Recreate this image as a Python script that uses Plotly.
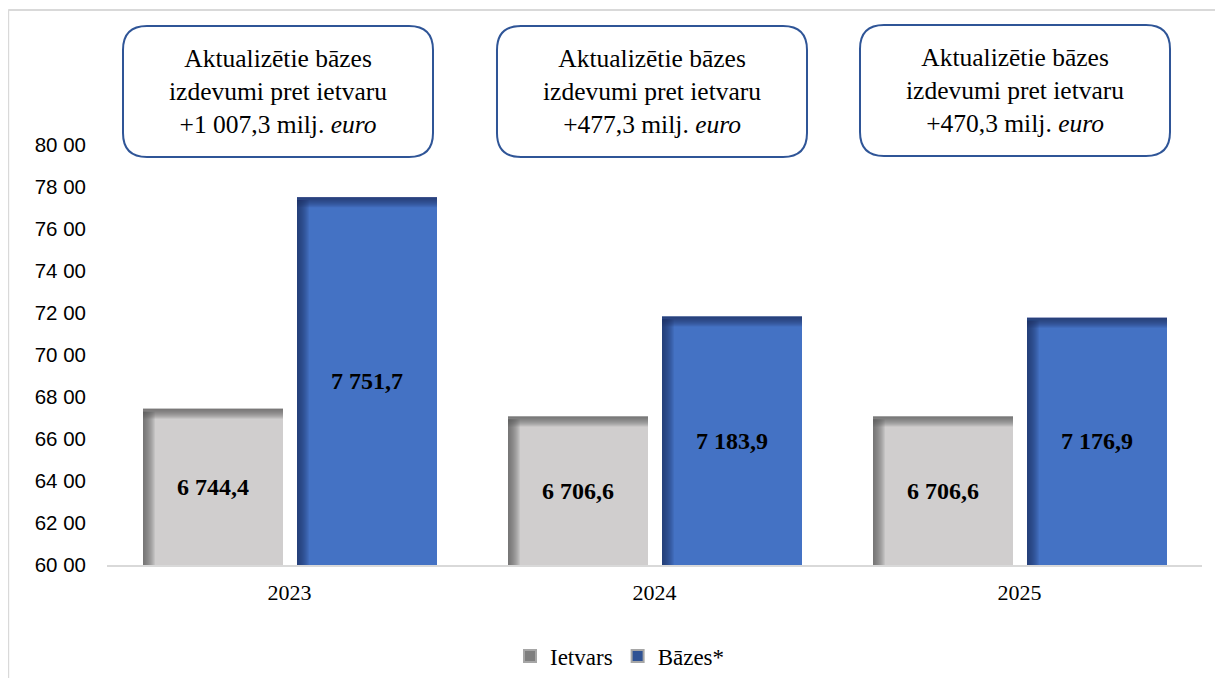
import plotly.graph_objects as go

# ---------------- data ----------------
years = ["2023", "2024", "2025"]
ietvars = [6744.4, 6706.6, 6706.6]
bazes = [7751.7, 7183.9, 7176.9]
series_names = ["Ietvars", "Bāzes*"]
tick_vals = [6000, 6200, 6400, 6600, 6800, 7000, 7200, 7400, 7600, 7800, 8000]
tick_text = ["60 00", "62 00", "64 00", "66 00", "68 00", "70 00",
             "72 00", "74 00", "76 00", "78 00", "80 00"]
box_title = "Aktualizētie bāzes<br>izdevumi pret ietvaru"

# ---------------- layout geometry (pixels) ----------------
PAGE_OFF = 8                      # default body margin of the html page
W, H = 1223 - PAGE_OFF, 686 - 2 * PAGE_OFF
L, R, T = 99, 21, 137
PW, PH = W - L - R, 420
B = H - T - PH
YMIN, YMAX = 6000, 8000
UPX = (YMAX - YMIN) / PH          # data units per pixel (y)
CPX = 3.0 / PW                    # category units per pixel (x)

BAR_W = 140 * CPX
OFF_GREY = -146.5 * CPX
OFF_BLUE = 7.5 * CPX

SERIF = "Liberation Serif"
GREY, GREY_D = "#D0CECE", "89,89,89"
BLUE, BLUE_D = "#4472C4", "31,53,96"


def fmt(v):
    s = f"{v:,.1f}"
    return s.replace(",", " ").replace(".", ",")


fig = go.Figure()

for vals, name, col, off in [(ietvars, series_names[0], GREY, OFF_GREY),
                             (bazes, series_names[1], BLUE, OFF_BLUE)]:
    fig.add_trace(go.Bar(
        x=years, y=[v - YMIN for v in vals], base=[YMIN] * 3,
        width=[BAR_W] * 3, offset=[off] * 3,
        marker=dict(color=col, line=dict(width=0)),
        text=[fmt(v) for v in vals], textposition="inside",
        insidetextanchor="middle", textangle=0,
        textfont=dict(family=SERIF, size=24, color="black", weight="bold"),
        name=name, showlegend=False, hoverinfo="skip",
    ))

# bevel shading (top and left edges), soft gradient from stacked translucent strips
for vals, dark, off in [(ietvars, GREY_D, OFF_GREY), (bazes, BLUE_D, OFF_BLUE)]:
    for k in range(1, 11):
        fig.add_trace(go.Bar(
            x=years, y=[k * UPX] * 3, base=[v - k * UPX for v in vals],
            width=[BAR_W] * 3, offset=[off] * 3,
            marker=dict(color=f"rgba({dark},0.12)", line=dict(width=0)),
            showlegend=False, hoverinfo="skip",
        ))
    for k in range(1, 13):
        fig.add_trace(go.Bar(
            x=years, y=[v - YMIN - 3 * UPX for v in vals], base=[YMIN] * 3,
            width=[k * CPX] * 3, offset=[off] * 3,
            marker=dict(color=f"rgba({dark},0.10)", line=dict(width=0)),
            showlegend=False, hoverinfo="skip",
        ))

# legend entries
for name, col in [(series_names[0], "#7F7F7F"), (series_names[1], "#2F5294")]:
    fig.add_trace(go.Bar(x=[years[0]], y=[None], name=name,
                         marker=dict(color=col, line=dict(width=1, color="#A6A6A6")),
                         showlegend=True, hoverinfo="skip"))


def px2paper(x, y):
    """reference-screenshot pixel -> paper coordinates"""
    return (x - PAGE_OFF - L) / PW, (H - B - (y - PAGE_OFF)) / PH


def rounded_box(x0, y0, w, h, r):
    x1, y1 = x0 + w, y0 + h
    pts = [
        ("M", [(x0 + r, y0)]),
        ("L", [(x1 - r, y0)]),
        ("Q", [(x1, y0), (x1, y0 + r)]),
        ("L", [(x1, y1 - r)]),
        ("Q", [(x1, y1), (x1 - r, y1)]),
        ("L", [(x0 + r, y1)]),
        ("Q", [(x0, y1), (x0, y1 - r)]),
        ("L", [(x0, y0 + r)]),
        ("Q", [(x0, y0), (x0 + r, y0)]),
    ]
    s = ""
    for cmd, ps in pts:
        s += cmd + " " + " ".join(
            "%.5f,%.5f" % px2paper(px, py) for px, py in ps) + " "
    return s + "Z"


box_lefts = [123, 497, 860]
box_tops = [26, 26, 25]
BOX_W, BOX_H = 310, 131

shapes = []
annotations = []

# outer chart-area frame (left and top edges visible in the picture)
fx0, fy0 = px2paper(8.2, 10)
fx1, fy1 = px2paper(1223 + 5, 686 + 5)
for a, b, c, d in [(fx0, fy0, fx1, fy0), (fx0, fy0, fx0, fy1)]:
    shapes.append(dict(type="line", xref="paper", yref="paper",
                       x0=a, y0=b, x1=c, y1=d,
                       line=dict(color="#D9D9D9", width=2), layer="below"))

for i, yr in enumerate(years):
    d = bazes[i] - ietvars[i]
    shapes.append(dict(type="path", xref="paper", yref="paper",
                       path=rounded_box(box_lefts[i], box_tops[i], BOX_W, BOX_H, 24),
                       line=dict(color="#2F5597", width=2), fillcolor="white"))
    cx, cy = px2paper(box_lefts[i] + BOX_W / 2, box_tops[i] + BOX_H / 2)
    annotations.append(dict(
        xref="paper", yref="paper", x=cx, y=cy, xanchor="center", yanchor="middle",
        text=f"{box_title}<br>+{fmt(d)} milj. <i>euro</i>", showarrow=False,
        align="center", font=dict(family=SERIF, size=25.5, color="black"),
    ))

lx, ly = px2paper(620, 656)
fig.update_layout(
    width=W, height=H,
    margin=dict(l=L, r=R, t=T, b=B, autoexpand=False),
    paper_bgcolor="white", plot_bgcolor="white",
    barmode="overlay",
    shapes=shapes, annotations=annotations,
    showlegend=True,
    legend=dict(orientation="h", x=lx, xanchor="center",
                y=ly, yanchor="middle",
                font=dict(family=SERIF, size=23, color="black"),
                itemsizing="constant", bgcolor="rgba(0,0,0,0)"),
    xaxis=dict(type="category", range=[-0.5, 2.5], showline=True,
               linecolor="#D9D9D9", linewidth=2, ticks="", showgrid=False,
               zeroline=False, ticklabelstandoff=7,
               tickfont=dict(family=SERIF, size=22, color="black")),
    yaxis=dict(range=[YMIN, YMAX], tickvals=tick_vals, ticktext=tick_text,
               showgrid=False, showline=False, zeroline=False, ticks="",
               ticklabelstandoff=20,
               tickfont=dict(family="Liberation Sans", size=20.5, color="black")),
    hovermode=False,
)

fig.write_html("out.html")
